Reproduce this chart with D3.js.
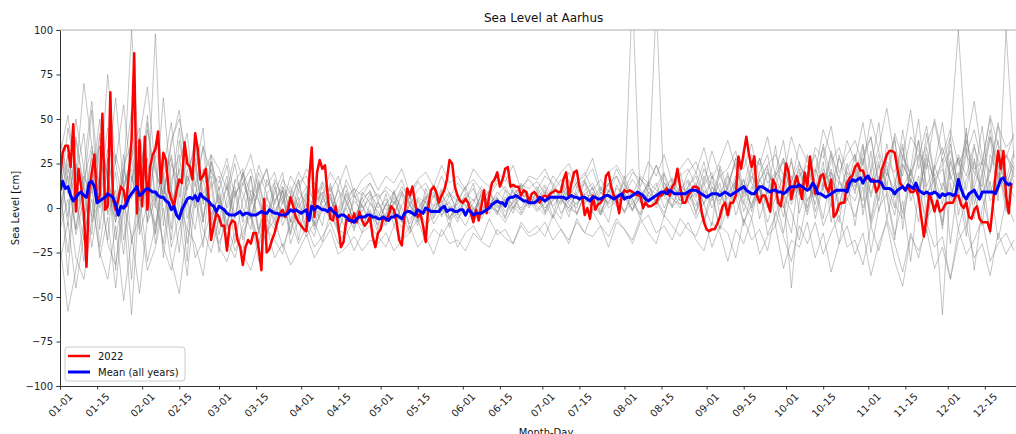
<!DOCTYPE html>
<html>
<head>
<meta charset="utf-8">
<script src="https://cdn.jsdelivr.net/npm/d3@7"></script>
<style>
  body { margin: 0; background: #fff; }
  svg { display: block; font-family: "DejaVu Sans", sans-serif; }
</style>
</head>
<body>
<svg id="chart" width="1016" height="434"></svg>
<script>
// tick labels on the month-day axis (leap-year calendar, 366 slots)
var tickLabels = ["01-01","01-15","02-01","02-15","03-01","03-15","04-01","04-15","05-01","05-15","06-01","06-15",
                  "07-01","07-15","08-01","08-15","09-01","09-15","10-01","10-15","11-01","11-15","12-01","12-15"];
var yTicks = [-100, -75, -50, -25, 0, 25, 50, 75, 100];

// 2022, one value per day [cm]
var year2022 = [
 16,31,35,35,23,47,-2,22,12,-3, -33,10,20,30,3,7,53,-1,1,65, 5,-1,5,12,10,1,20,38,87,-3,
 38,1,40,-1,23,30,33,43,14,31, 27,10,5,1,10,16,14,37,25,23, 16,42,33,16,18,22,7,-18,-10,-3,
 -5,-10,-10,-24,-10,-7,-8,-18,-22,-32, -22,-18,-20,-14,-14,-23,-35,5,-25,-23, -18,-14,-8,-3,-1,-5,-1,6,1,-5,
 -8,-10,-12,-13,16,34,-5,20,27,22, 24,7,-6,-7,1,-10,-22,-19,-7,-4, -8,-3,-8,-2,-7,-10,-8,-5,-16,-22,
 -14,-12,-5,-7,-4,1,-1,-8,-18,-21, -5,11,7,12,3,-5,-3,-10,-19,1, 10,12,9,3,7,10,16,27,25,12,
 7,4,3,5,3,-3,-8,-1,-7,1, 10,-3,7,14,16,20,12,16,22,23, 12,13,12,12,7,10,9,3,8,9,
 7,3,6,7,6,8,9,10,9,9, 16,20,6,14,20,21,12,7,-4,0, -6,7,-1,2,3,5,18,20,12,7,
 5,-3,7,10,9,10,9,8,7,7, 0,3,1,1,2,3,7,7,9,11, 7,12,14,22,12,3,3,7,9,12,
 12,11,-1,-8,-12,-13,-12,-12,-9,-5, 1,3,-4,3,3,7,29,22,31,40, 30,23,29,7,3,7,7,3,-2,16,
 13,3,1,12,25,20,5,12,18,12, 5,20,12,29,18,8,12,18,19,12, 9,16,-5,-3,2,3,3,14,17,18,
 23,25,21,21,16,17,16,16,9,12, 21,25,30,32,32,31,22,14,12,10, 12,9,9,11,6,-5,-16,-5,8,4,
 -2,4,-2,-1,2,3,3,3,7,7, 2,0,3,-5,-6,-1,1,-6,-8,-8, -8,-13,1,18,32,22,32,7,-3,14
];

// mean of all years, one value per day [cm]
var meanAll = [
 10,15,11,12,7,4,6,8,9,7, 6,14,15,12,3,4,5,6,8,7, 6,2,-4,1,0,2,6,8,10,12,
 7,8,10,11,10,9,9,7,6,6, 4,3,-1,1,-4,-6,-1,2,5,6, 5,7,4,8,6,5,4,2,1,-2,
 1,0,-1,-3,-4,-4,-4,-3,-2,-4, -3,-3,-4,-4,-4,-3,-2,-3,-3,-1, -2,-3,-3,-4,-4,-4,-3,-1,-2,-1,
 -2,-3,-2,-1,-7,1,-1,1,0,-1, -1,-2,0,-2,-3,-5,-4,-4,-5,-7, -7,-8,-6,-5,-5,-5,-4,-4,-5,-5,
 -6,-6,-5,-6,-7,-5,-5,-4,-5,-6, -3,-2,-2,-3,-4,-1,-2,-3,0,-1, -2,-2,-2,-2,0,1,-2,-1,-1,-2,
 -2,-1,-1,-4,-1,-2,-4,-3,-3,-3, -2,-1,0,2,3,4,3,3,1,5, 6,6,7,6,5,4,4,3,3,3,
 4,6,5,4,5,6,6,6,6,6, 6,5,6,7,6,6,5,6,6,5, 4,6,6,5,5,6,7,7,6,5,
 6,7,8,5,6,6,7,8,9,8, 7,5,4,5,6,7,8,9,9,8, 10,9,8,8,8,8,8,9,10,10,
 10,9,8,7,6,7,8,8,8,7, 8,9,8,7,8,9,10,11,12,10, 9,8,8,10,12,12,11,10,9,10,
 10,9,9,8,9,11,12,12,12,13, 12,11,10,11,14,12,8,8,7,6, 7,8,9,10,10,10,10,9,14,16,
 15,16,17,14,17,18,15,15,15,15, 14,11,11,11,10,8,10,11,12,10, 13,12,11,14,10,9,8,9,8,8,
 9,8,6,8,7,8,8,7,8,16, 11,7,5,8,9,10,7,5,9,9, 9,9,9,8,12,16,17,14,13,14
];

// other years, read every 3rd day [cm]
var gray01 = [25,-10,40,12,-22,8,33,-5,18,55,-15,2,30,-28,10,45,5,-12,22,0,
 -8,14,-20,5,18,-12,2,-6,10,-15,4,12,-10,-2,8,-14,3,-7,6,-4,
 -9,2,-5,8,-12,0,6,-4,10,-6,3,12,-2,7,1,9,4,-3,11,6,
 2,9,-5,12,4,0,15,6,-3,10,2,18,5,-6,8,14,0,9,20,3,
 12,-8,6,22,1,15,-10,9,28,4,11,-5,18,7,30,-2,14,20,0,25,
 8,35,-6,18,12,40,-12,22,5,30,15,-8,28,10,45,2,20,-15,33,12,18];
var gray02 = [-5,30,8,-30,15,50,-2,20,-18,12,38,-8,5,62,10,-25,18,6,35,-10,
 12,-18,6,20,-4,-22,8,14,-10,2,16,-8,-16,5,11,-3,-12,7,1,-9,
 4,-7,10,-3,-14,5,0,13,-5,8,-2,4,14,-4,9,2,-6,12,5,0,
 10,-2,7,3,16,-4,8,11,1,-8,13,6,-2,17,9,4,-5,12,7,15,
 -4,18,9,-12,14,25,3,-6,16,8,35,1,-14,20,12,6,26,-8,15,10,
 30,-4,22,48,6,-18,25,14,38,-5,12,28,-20,16,42,8,-10,30,20,5,24];
var gray03 = [10,-25,18,42,-8,5,28,-35,14,22,-12,48,3,-20,16,30,-6,8,-22,26,
 2,18,-12,-25,10,4,-15,12,-6,8,-18,6,2,-10,14,-5,0,-13,9,3,
 -6,8,-10,2,6,-8,11,-2,4,-11,7,1,-5,9,3,-4,10,0,6,8,
 4,12,0,-6,9,14,3,7,-4,10,6,15,2,-3,11,8,19,0,6,12,
 18,2,-10,24,10,5,16,-2,20,30,6,-14,12,22,0,18,34,4,-8,20,
 12,28,-10,6,36,15,-3,22,50,8,16,-12,26,10,34,-6,18,40,4,100,28];
var gray04 = [40,15,-12,22,60,8,-18,30,12,-40,20,5,98,-10,25,14,-30,42,8,18,
 -15,6,25,0,-12,16,-5,8,20,-8,3,-14,10,1,-6,12,-9,4,-2,8,
 -12,-3,6,-7,2,-10,5,9,-4,1,-8,6,0,3,10,-3,5,-1,14,2,
 7,-3,12,5,0,9,14,-2,6,3,11,8,-1,7,13,2,10,16,4,9,
 1,13,20,-4,8,15,2,22,-6,10,18,5,28,-3,12,7,20,1,30,9,
 16,4,32,-2,20,10,44,14,-8,25,18,2,36,12,-16,28,6,20,38,0,22];
var gray05 = [-20,-58,-35,-8,12,-28,-5,-45,0,-60,8,-30,-10,18,-22,-4,-38,6,-12,-25,
 -6,-18,-28,-10,-2,-20,-14,-6,-22,-10,-4,-16,-8,-19,-3,-12,-15,-6,-10,-2,
 -14,-8,-4,-11,-6,0,-9,-5,2,-7,-3,-10,0,-6,3,-2,-8,1,-4,4,
 -2,3,-6,5,0,-3,6,2,-4,4,8,-2,3,7,0,5,-3,9,2,4,
 -6,3,8,-12,0,6,-8,2,12,-15,-4,8,-2,-18,5,10,-10,2,-20,6,
 -5,12,-25,0,8,-15,4,-30,10,-6,2,-60,14,-12,6,-35,0,15,-18,4,-8];
var gray06 = [30,52,18,70,35,10,45,25,58,15,40,68,22,5,38,50,28,12,34,20,
 14,28,6,18,30,10,22,2,16,8,20,12,4,15,9,18,3,11,7,14,
 6,10,2,12,5,15,8,1,11,6,14,9,4,12,8,16,10,6,13,11,
 15,8,18,12,6,14,20,10,16,9,22,13,7,18,14,24,11,17,8,20,
 26,14,32,18,10,28,22,36,15,24,30,18,40,25,14,34,28,46,20,30,
 38,24,50,32,18,42,28,55,22,36,48,26,40,100,30,44,24,52,35,28,42];
var gray07 = [0,18,-15,5,28,-22,10,-8,24,36,-5,15,-20,8,30,2,-12,20,45,-6,
 8,-10,15,22,-5,10,-16,4,12,-2,6,-12,3,9,-7,5,13,-4,2,-8,
 3,-5,8,0,-9,4,-3,7,-1,-6,5,2,-4,8,0,6,-2,3,9,1,
 6,0,4,10,2,-3,8,5,12,0,4,9,-1,6,14,3,8,1,11,5,
 8,14,0,10,5,18,-2,12,6,22,9,0,15,26,4,12,-6,20,14,8,
 22,0,14,30,10,-4,24,16,6,34,12,-10,20,28,0,16,46,8,24,-2,16];
var gray08 = [15,-38,25,8,-15,35,18,-5,30,-20,12,52,4,20,-12,38,10,28,-5,15,
 -25,2,12,-8,18,-15,6,-3,10,-20,-6,8,-12,0,6,-9,10,-4,-14,3,
 -2,-10,4,-6,7,-3,-12,1,5,-5,-1,8,-7,2,-3,6,-5,4,0,7,
 -1,5,11,-3,4,8,2,12,-2,6,1,10,5,-4,9,3,14,6,0,11,
 4,-8,12,6,20,-4,10,2,16,24,-10,8,-45,4,20,-6,12,30,2,16,
 -10,20,8,26,-6,14,34,4,18,-14,24,10,40,-4,16,26,6,-12,20,10,30];
var gray09 = [5,45,20,-10,32,12,75,25,0,28,40,10,-15,22,48,6,30,15,-8,26,
 10,24,-5,14,2,20,8,-10,12,4,16,-4,7,12,-2,10,4,-8,6,9,
 0,5,-4,9,2,-6,6,11,-2,4,8,-5,3,10,2,7,12,4,8,5,
 12,3,9,16,6,2,10,14,4,9,18,6,120,3,15,10,7,14,4,12,
 20,8,15,4,12,28,6,18,10,5,20,14,26,8,16,2,22,12,28,18,
 10,26,40,14,22,6,30,18,38,12,24,48,16,28,10,34,20,44,14,30,18];
var gray10 = [20,-5,38,10,55,-12,28,5,16,100,22,-8,34,14,-18,26,42,0,18,30,
 4,-12,16,8,-6,12,22,-2,6,-14,10,2,-8,14,5,-3,8,-11,3,10,
 -5,2,9,-8,4,-2,7,-6,3,9,-4,5,11,-2,6,0,4,10,-3,6,
 3,10,1,7,-5,12,4,9,2,14,5,-2,8,3,12,115,6,1,13,8,
 14,2,18,10,-4,16,8,24,12,0,18,26,6,14,-2,22,10,32,16,4,
 18,36,6,24,14,0,28,20,8,42,16,22,2,30,18,36,8,22,48,12,26];
var gray11 = [-10,22,6,-18,14,35,-4,10,-26,18,4,28,-14,12,0,22,-20,8,16,-4,
 6,-8,10,-18,2,14,-6,-12,4,10,-4,2,-10,6,-2,-14,1,8,-6,-1,
 -10,3,-4,-8,2,-5,4,-9,-1,3,-6,0,5,-3,1,-2,6,2,-1,4,
 1,-4,5,8,-2,3,6,-1,9,2,5,-3,10,4,7,0,11,5,2,8,
 -2,10,4,14,-6,8,16,0,10,-8,6,18,2,12,-4,14,6,22,-2,10,
 4,18,-8,12,24,2,-6,16,8,28,-2,14,6,20,-10,12,26,4,10,18,6];
var gray12 = [12,30,-2,18,8,42,15,-8,22,5,32,18,0,26,10,-6,20,34,4,12,
 18,0,8,14,22,4,-8,16,6,12,0,9,14,3,8,-5,6,11,0,5,
 8,-1,2,10,-4,6,3,-2,8,0,2,6,-3,5,9,1,3,7,12,4,
 8,13,6,2,11,7,16,4,10,13,3,8,16,10,5,12,20,7,10,16,
 6,22,12,2,18,10,30,14,6,20,12,28,4,18,24,10,36,16,8,22,
 30,14,20,4,28,38,12,20,30,6,22,34,18,8,30,20,12,40,24,16,32];
var gray13 = [35,8,50,22,-5,40,18,62,12,28,-2,44,20,8,36,55,15,25,-8,30,
 22,10,30,16,4,24,12,20,2,18,10,22,14,6,20,12,24,8,16,20,
 10,18,14,22,8,16,20,12,24,14,18,10,22,16,12,20,15,24,10,18,
 16,22,12,20,25,14,18,28,10,20,24,16,22,12,26,18,30,14,22,28,
 20,34,16,26,38,22,12,30,24,40,18,28,14,36,26,20,44,30,16,38,
 26,48,20,34,56,28,18,40,32,22,50,30,44,24,36,60,28,20,46,34,40];
var gray14 = [-30,-8,-45,-15,5,-25,-40,-10,-52,-18,-5,-35,-22,0,-30,-48,-12,-20,-38,-6,
 -22,-30,-14,-26,-35,-18,-10,-28,-20,-32,-24,-15,-28,-20,-12,-26,-22,-16,-24,-18,
 -20,-14,-24,-18,-10,-22,-16,-26,-12,-20,-18,-24,-14,-19,-22,-12,-17,-20,-10,-16,
 -14,-8,-18,-12,-20,-6,-14,-16,-10,-22,-8,-12,-18,-6,-14,-20,-4,-10,-16,-8,
 -18,-24,-8,-14,-30,-12,-20,-6,-26,-16,-10,-34,-18,-22,-8,-28,-14,-36,-20,-10,
 -26,-14,-38,-20,-8,-30,-44,-16,-24,-12,-34,-22,-40,-18,-10,-28,-20,-38,-14,-26,-18];
var gray15 = [8,25,-12,15,35,0,20,-18,10,30,45,5,-10,18,28,-4,12,40,2,22,
 0,12,-6,20,8,-14,16,4,10,-8,14,18,2,8,12,-2,16,6,10,14,
 4,12,8,16,2,10,14,6,18,8,4,12,16,10,6,14,18,8,12,16,
 10,18,14,6,20,12,16,22,8,14,18,10,20,16,12,24,14,8,18,22,
 12,26,6,18,22,32,10,16,28,14,20,38,8,24,18,30,12,26,34,20,
 16,30,40,12,26,20,36,8,28,46,18,24,32,14,38,22,26,50,16,30,22];
var gray16 = [-12,5,-28,-40,-8,15,-20,-32,2,-15,-48,-6,10,-22,-35,-12,4,-28,-18,-2,
 -20,-8,-24,-14,-4,-30,-12,-18,-26,-6,-20,-10,-22,-16,-8,-20,-12,-24,-14,-10,
 -16,-22,-10,-18,-14,-6,-20,-12,-16,-8,-22,-14,-10,-18,-6,-15,-12,-20,-8,-14,
 -10,-16,-4,-12,-18,-8,-14,-2,-10,-16,-6,-12,-20,-8,-4,-14,-10,-18,-6,-12,
 -16,-4,-22,-10,-14,-28,-6,-18,-12,-24,-2,-16,-30,-10,-20,-8,-26,-14,-4,-22,
 -18,-32,-10,-24,-6,-20,-36,-14,-28,-8,-22,-16,-40,-12,-26,-18,-6,-30,-20,-14,-24];
var grayYears = [gray01,gray02,gray03,gray04,gray05,gray06,gray07,gray08,
                 gray09,gray10,gray11,gray12,gray13,gray14,gray15,gray16];

var svg = d3.select("#chart");
var plotLeft = 60, plotTop = 30, plotBottom = 386;
var nDays = 366, pxPerDay = 2.65;
var plotRight = plotLeft + (nDays - 1) * pxPerDay;

var x = d3.scaleLinear().domain([0, nDays - 1]).range([plotLeft, plotRight]);
var y = d3.scaleLinear().domain([-100, 100]).range([plotBottom, plotTop]);

// position of a "MM-DD" label in the leap-year calendar
function dayIndex(label) {
    var p = label.split("-");
    return d3.timeDay.count(new Date(2020, 0, 1), new Date(2020, +p[0] - 1, +p[1]));
}

svg.append("clipPath").attr("id", "plotclip")
   .append("rect").attr("x", plotLeft).attr("y", plotTop)
   .attr("width", plotRight - plotLeft).attr("height", plotBottom - plotTop);

var plot = svg.append("g").attr("clip-path", "url(#plotclip)");

var grayLine = d3.line().x(function(d, i){ return x(i * 3); }).y(function(d){ return y(d); });
var dayLine = d3.line().x(function(d, i){ return x(i); }).y(function(d){ return y(d); });

plot.selectAll("path.other").data(grayYears).enter()
    .append("path").attr("class", "other")
    .attr("d", grayLine)
    .attr("fill", "none").attr("stroke", "#7f7f7f")
    .attr("stroke-opacity", 0.45).attr("stroke-width", 1);

plot.append("path").datum(year2022)
    .attr("d", dayLine)
    .attr("fill", "none").attr("stroke", "red")
    .attr("stroke-width", 2.5).attr("stroke-linejoin", "round");

plot.append("path").datum(meanAll)
    .attr("d", dayLine)
    .attr("fill", "none").attr("stroke", "blue")
    .attr("stroke-width", 3).attr("stroke-linejoin", "round");

// axes
var yAxis = svg.append("g").attr("transform", "translate(" + plotLeft + ",0)")
    .call(d3.axisLeft(y).tickValues(yTicks).tickSize(3.5).tickPadding(3.5)
          .tickFormat(function(d){ return d < 0 ? "\u2212" + Math.abs(d) : d; }));
yAxis.select(".domain").attr("stroke", "#333");
yAxis.selectAll("line").attr("stroke", "#333");
yAxis.selectAll("text").attr("font-size", 10).attr("fill", "#222")
    .attr("font-family", "DejaVu Sans");

var xAxis = svg.append("g").attr("transform", "translate(0," + plotBottom + ")")
    .call(d3.axisBottom(x).tickValues(tickLabels.map(dayIndex)).tickSize(3.5)
          .tickFormat(function(d, i){ return tickLabels[i]; }));
xAxis.select(".domain").attr("stroke", "#333");
xAxis.selectAll("line").attr("stroke", "#333");
xAxis.selectAll("text")
    .attr("font-size", 10).attr("fill", "#222").attr("font-family", "DejaVu Sans")
    .attr("y", 0).attr("dy", "0.35em")
    .attr("text-anchor", "middle")
    .attr("transform", "translate(0,19) rotate(-45)");

// top frame line
svg.append("line").attr("x1", plotLeft).attr("x2", plotRight)
   .attr("y1", plotTop).attr("y2", plotTop).attr("stroke", "#aaa").attr("stroke-width", 1);

// titles
svg.append("text").attr("x", (plotLeft + plotRight) / 2).attr("y", 22)
   .attr("text-anchor", "middle").attr("font-size", 12).attr("fill", "#111")
   .text("Sea Level at Aarhus");
svg.append("text").attr("transform", "translate(19," + y(0) + ") rotate(-90)")
   .attr("text-anchor", "middle").attr("font-size", 10).attr("fill", "#111")
   .text("Sea Level [cm]");
svg.append("text").attr("x", 546).attr("y", 436)
   .attr("text-anchor", "middle").attr("font-size", 10).attr("fill", "#111")
   .text("Month-Day");

// legend
var legendItems = [{label: "2022", color: "red"}, {label: "Mean (all years)", color: "blue"}];
var legend = svg.append("g").attr("transform", "translate(65,347)");
legend.append("rect").attr("width", 120).attr("height", 34).attr("rx", 3)
    .attr("fill", "#fff").attr("fill-opacity", 0.85).attr("stroke", "#ccc");
legendItems.forEach(function(item, i){
    var yy = 9 + i * 16;
    legend.append("line").attr("x1", 3).attr("x2", 25).attr("y1", yy).attr("y2", yy)
        .attr("stroke", item.color).attr("stroke-width", i == 0 ? 2.5 : 3);
    legend.append("text").attr("x", 33).attr("y", yy).attr("dy", "0.35em")
        .attr("font-size", 10).attr("fill", "#111").text(item.label);
});
</script>
</body>
</html>
